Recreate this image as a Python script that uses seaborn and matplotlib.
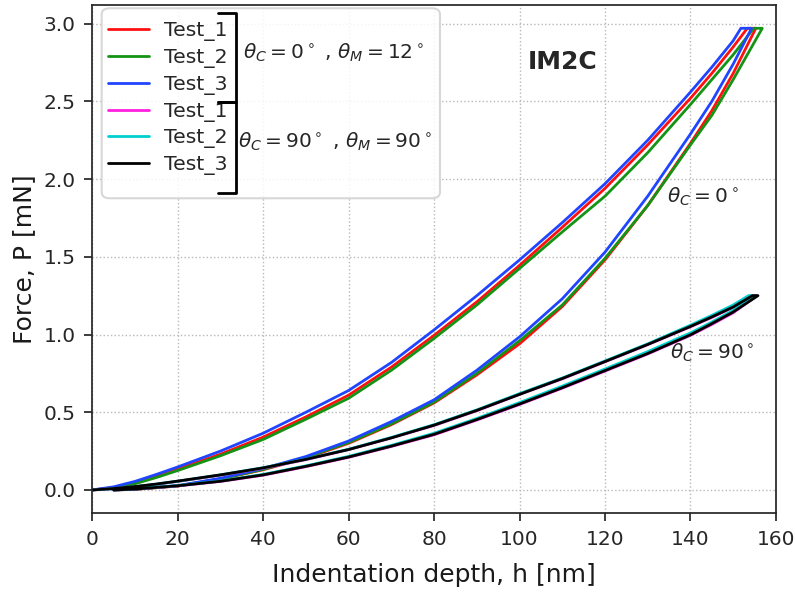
import pandas as pd
import seaborn as sns
import matplotlib.pyplot as plt
from matplotlib.patches import FancyBboxPatch

# depth grids (nm)
h_load = [0, 5, 10, 15, 20, 30, 40, 50, 60, 70, 80, 90, 100, 110, 120, 130, 140, 145, 150]
h_unload = [150, 145, 140, 130, 120, 110, 100, 90, 80, 70, 60, 50, 40, 30, 20, 10, 5]

# theta_C = 0, theta_M = 12  (force in mN)
t1_c0_load = [0, 0.015, 0.045, 0.09, 0.135, 0.23, 0.34, 0.47, 0.61, 0.79, 0.995, 1.21, 1.445, 1.69, 1.94, 2.22, 2.52, 2.68, 2.85]
t1_c0_unload = [2.68, 2.44, 2.23, 1.83, 1.48, 1.18, 0.94, 0.74, 0.56, 0.42, 0.30, 0.205, 0.13, 0.07, 0.025, 0.004, 0.0]
t2_c0_load = [0, 0.012, 0.04, 0.08, 0.125, 0.22, 0.325, 0.455, 0.59, 0.77, 0.975, 1.19, 1.425, 1.66, 1.89, 2.17, 2.48, 2.64, 2.80]
t2_c0_unload = [2.64, 2.41, 2.22, 1.83, 1.49, 1.19, 0.96, 0.75, 0.565, 0.425, 0.305, 0.21, 0.132, 0.072, 0.026, 0.004, 0.0]
t3_c0_load = [0, 0.02, 0.055, 0.10, 0.148, 0.25, 0.365, 0.50, 0.64, 0.82, 1.03, 1.25, 1.48, 1.72, 1.97, 2.25, 2.56, 2.72, 2.89]
t3_c0_unload = [2.74, 2.50, 2.29, 1.89, 1.53, 1.23, 0.985, 0.77, 0.58, 0.44, 0.315, 0.215, 0.138, 0.075, 0.028, 0.005, 0.0]

# theta_C = 90, theta_M = 90
t1_c90_load = [0, 0.008, 0.02, 0.036, 0.055, 0.095, 0.14, 0.195, 0.26, 0.335, 0.415, 0.51, 0.615, 0.715, 0.825, 0.935, 1.05, 1.11, 1.175]
t1_c90_unload = [1.14, 1.065, 0.995, 0.875, 0.765, 0.655, 0.55, 0.45, 0.355, 0.28, 0.21, 0.15, 0.095, 0.055, 0.026, 0.006, 0.0]
t2_c90_load = [0, 0.008, 0.021, 0.037, 0.056, 0.097, 0.143, 0.198, 0.262, 0.338, 0.42, 0.515, 0.62, 0.72, 0.83, 0.94, 1.06, 1.123, 1.19]
t2_c90_unload = [1.155, 1.08, 1.01, 0.89, 0.778, 0.668, 0.562, 0.46, 0.365, 0.287, 0.216, 0.155, 0.10, 0.058, 0.028, 0.007, 0.0]
t3_c90_load = [0, 0.009, 0.022, 0.038, 0.057, 0.097, 0.142, 0.197, 0.26, 0.335, 0.417, 0.512, 0.615, 0.717, 0.826, 0.936, 1.052, 1.113, 1.177]
t3_c90_unload = [1.145, 1.07, 0.998, 0.878, 0.768, 0.658, 0.553, 0.453, 0.358, 0.282, 0.212, 0.152, 0.097, 0.056, 0.027, 0.006, 0.0]

# peak load and depths at end of loading / start of unloading
p_max = [2.97, 2.97, 2.97, 1.25, 1.25, 1.25]
h_peak_load = [153.3, 154.8, 151.8, 154.2, 153.6, 154.5]
h_peak_unload = [155.3, 156.8, 154.3, 155.5, 154.8, 155.8]

labels = ["Test_1", "Test_2", "Test_3", "Test_1", "Test_2", "Test_3"]
colors = ["#ff1010", "#149414", "#2045ff", "#ff20e0", "#00d0d0", "black"]
loads = [t1_c0_load, t2_c0_load, t3_c0_load, t1_c90_load, t2_c90_load, t3_c90_load]
unloads = [t1_c0_unload, t2_c0_unload, t3_c0_unload, t1_c90_unload, t2_c90_unload, t3_c90_unload]

sns.set_theme(style="ticks")
plt.rcParams['font.family'] = ['DejaVu Sans']

fig, ax = plt.subplots(figsize=(7.95, 5.92), dpi=100)
fig.subplots_adjust(left=0.1161, right=0.976, bottom=0.133, top=0.9916)

handles = []
for i in range(6):
    h = h_load + [h_peak_load[i], h_peak_unload[i]] + h_unload
    p = loads[i] + [p_max[i], p_max[i]] + unloads[i]
    df = pd.DataFrame({"h": h, "P": p})
    sns.lineplot(data=df, x="h", y="P", sort=False, estimator=None,
                 color=colors[i], lw=2.0, ax=ax)
    handles.append(ax.get_lines()[-1])

ax.set_xlim(0, 160)
ax.set_ylim(-0.15, 3.12)
ax.set_xticks([0, 20, 40, 60, 80, 100, 120, 140, 160])
ax.set_yticks([0.0, 0.5, 1.0, 1.5, 2.0, 2.5, 3.0])
ax.grid(True, linestyle=':', color='0.72', lw=1)
ax.tick_params(labelsize=14.5, length=6, pad=6, colors='0.15')
for s in ax.spines.values():
    s.set_color('0.15')
ax.set_xlabel("Indentation depth, h [nm]", fontsize=18, color='0.1', labelpad=10)
ax.set_ylabel("Force, P [mN]", fontsize=18, color='0.1', labelpad=5)

# legend box (wide, holds the group labels too)
box = FancyBboxPatch((0.0137, 0.6197), 0.4949, 0.3738,
                     boxstyle="round,pad=0,rounding_size=0.012",
                     transform=ax.transAxes, fc='white', ec='0.82', lw=1.5,
                     alpha=0.85, zorder=4)
ax.add_patch(box)
leg = ax.legend(handles, labels, loc='upper left', bbox_to_anchor=(0.0234, 0.9675),
                frameon=False, fontsize=14.7, handlelength=2.0, labelspacing=0.33,
                borderaxespad=0, borderpad=0, handletextpad=0.75)
leg.set_zorder(5)

# brackets grouping the legend entries
ax.plot([0.1839, 0.2102, 0.2102, 0.1839], [0.9849, 0.9849, 0.8098, 0.8098],
        color='black', lw=2, transform=ax.transAxes, clip_on=False, zorder=6)
ax.plot([0.1839, 0.2102, 0.2102, 0.1839], [0.8098, 0.8098, 0.6307, 0.6307],
        color='black', lw=2, transform=ax.transAxes, clip_on=False, zorder=6)
ax.text(0.22, 0.905, r"$\theta_C=0^\circ$ , $\theta_M=12^\circ$", fontsize=14.5,
        transform=ax.transAxes, ha='left', va='center', zorder=6)
ax.text(0.2131, 0.7311, r"$\theta_C=90^\circ$ , $\theta_M=90^\circ$", fontsize=14.5,
        transform=ax.transAxes, ha='left', va='center', zorder=6)

ax.text(0.688, 0.888, "IM2C", fontsize=18, fontweight='bold',
        transform=ax.transAxes, ha='center', va='center')
ax.text(134.5, 1.886, r"$\theta_C=0^\circ$", fontsize=14.5, ha='left', va='center')
ax.text(135.1, 0.879, r"$\theta_C=90^\circ$", fontsize=14.5, ha='left', va='center')

fig.savefig("out.png", dpi=100)
